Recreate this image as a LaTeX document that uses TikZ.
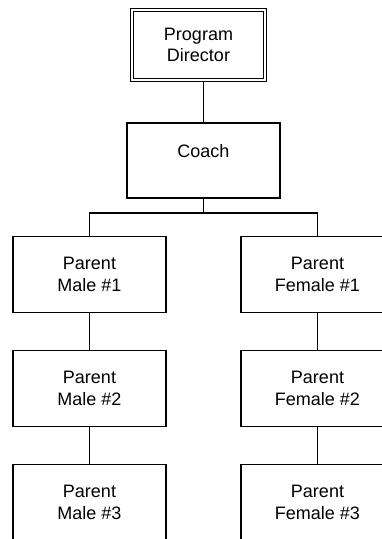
\documentclass[tikz,border=0pt]{standalone}
\usepackage{fontspec}
\setmainfont{Liberation Sans}
\usetikzlibrary{positioning}
\tikzset{
  unit/.style={draw, line width=1.6pt, minimum width=153pt, minimum height=76pt,
    align=center, inner sep=0pt, font=\fontsize{18}{21.6}\selectfont},
  link/.style={line width=1.6pt},
}
\begin{document}
\begin{tikzpicture}[x=1pt,y=-1pt]
      \useasboundingbox (0,0) rectangle (382,539);
      \clip (0,0) rectangle (382,539);
      % top
      \node[unit, line width=1pt, double, double distance=2pt,
        minimum width=133pt, minimum height=70pt] (dir) at (198.5,45) {Program\\Director};
      \node[unit, minimum height=75pt] (coach) at (203.5,160.5) {Coach\\[-9pt]\strut};
      \draw[link] (coach.north) -- (coach.north |- dir.south);
      % parents
      \foreach \y [count=\i] in {274.5,388.5,502.5}{
        \node[unit] (m\i) at (89.5,\y) {Parent\\Male \#\i};
        \node[unit] (f\i) at (317.5,\y) {Parent\\Female \#\i};
      }
      \draw[link] (coach.south) -- ++(0,14) coordinate (bus);
      \draw[link] (m1.north) |- (bus) -| (f1.north);
      \draw[link] (m1) -- (m2) (m2) -- (m3);
      \draw[link] (f1) -- (f2) (f2) -- (f3);
    \end{tikzpicture}
\end{document}
